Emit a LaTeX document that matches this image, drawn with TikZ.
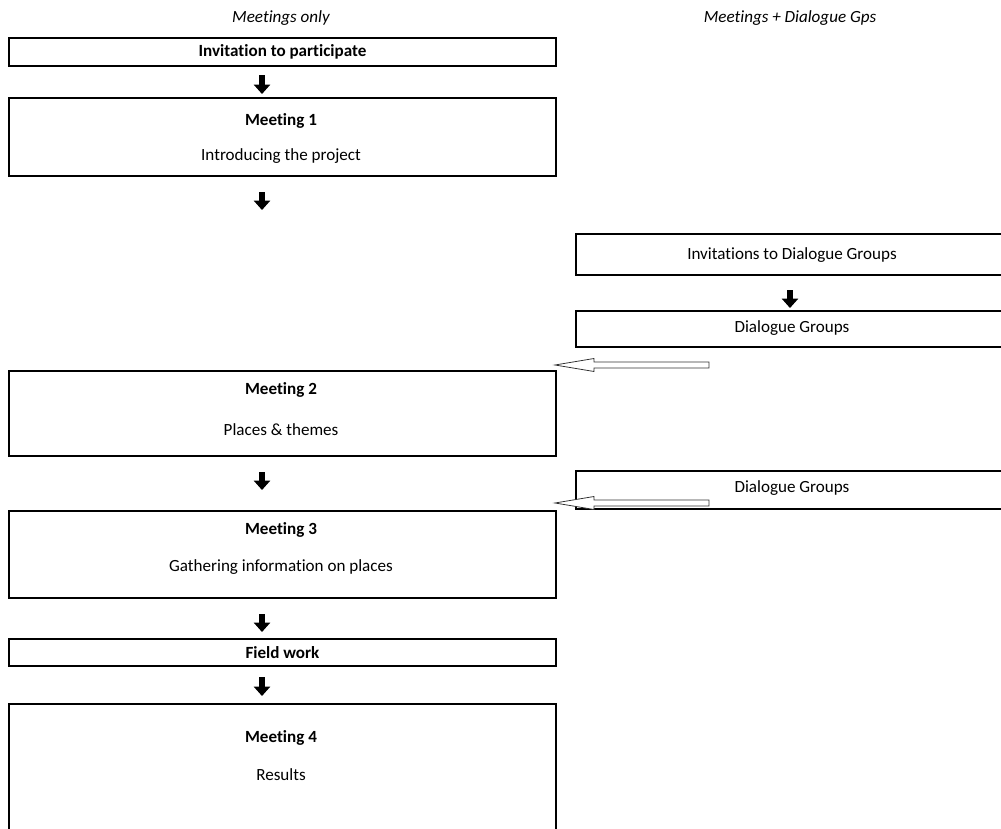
\documentclass[tikz,border=0pt]{standalone}
\usepackage{fontspec}
\setmainfont{Carlito}[Ligatures={NoCommon}]
\usetikzlibrary{arrows.meta,calc}
\begin{document}
\begin{tikzpicture}[x=0.75pt,y=-0.75pt,
  box/.style={draw=black,line width=1.5pt,inner sep=0pt,anchor=north west},
  lbl/.style={font=\fontsize{12.8}{15}\selectfont,inner sep=0pt},
  blbl/.style={font=\fontsize{12.8}{15}\selectfont\bfseries,inner sep=0pt},
  head/.style={font=\fontsize{12.8}{15}\selectfont\itshape,inner sep=0pt},
  downarr/.style={line width=3.9pt,-{Triangle[width=12pt,length=7pt]}},
  hollow/.style={draw=black!80,line width=0.6pt,fill=white,line join=miter}]
\useasboundingbox (0,0) rectangle (1001,829);
% column headers
\node[head] (h1) at (281,18) {Meetings only};
\node[head] (h2) at (790,18) {Meetings + Dialogue Gps};
% left column boxes
\node[box,minimum width=410.25pt,minimum height=21pt] (A) at (8,37) {};
\node[blbl] (At) at ($(A.center)$) {Invitation to participate};
\node[box,minimum width=410.25pt,minimum height=58.5pt] (B) at (8,97) {};
\node[blbl] (Bt1) at (281,121) {Meeting 1};
\node[lbl] (Bt2) at (281,156) {Introducing the project};
\node[box,minimum width=410.25pt,minimum height=63.75pt] (C) at (8,370) {};
\node[blbl] (Ct1) at (281,390) {Meeting 2};
\node[lbl] (Ct2) at (281,430) {Places \& themes};
\node[box,minimum width=410.25pt,minimum height=65.25pt] (D) at (8,510) {};
\node[blbl] (Dt1) at (281,530) {Meeting 3};
\node[lbl] (Dt2) at (281,567) {Gathering information on places};
\node[box,minimum width=410.25pt,minimum height=20.25pt] (E) at (8,638) {};
\node[blbl] (Et) at ($(E.center)$) {Field work};
\node[box,minimum width=410.25pt,minimum height=105pt] (F) at (8,703) {};
\node[blbl] (Ft1) at (281,738) {Meeting 4};
\node[lbl] (Ft2) at (281,775) {Results};
% right column boxes
\node[box,minimum width=326.25pt,minimum height=30.75pt] (R1) at (575,233) {};
\node[lbl] (R1t) at (792,255) {Invitations to Dialogue Groups};
\node[box,minimum width=326.25pt,minimum height=27pt] (R2) at (575,310) {};
\node[lbl] (R2t) at (792,328) {Dialogue Groups};
\node[box,minimum width=326.25pt,minimum height=28.5pt] (R3) at (575,470) {};
\node[lbl] (R3t) at (792,488) {Dialogue Groups};
% down arrows
\coordinate (lx) at (262,0);
\coordinate (rx) at (790,0);
\draw[downarr] (lx |- A.south) ++(0,8) -- ++(0,19);
\draw[downarr] (lx |- B.south) ++(0,15) -- ++(0,18);
\draw[downarr] (lx |- C.south) ++(0,15) -- ++(0,18);
\draw[downarr] (lx |- D.south) ++(0,15) -- ++(0,18);
\draw[downarr] (lx |- E.south) ++(0,10) -- ++(0,19);
\draw[downarr] (rx |- R1.south) ++(0,14) -- ++(0,18);
% hollow arrows
\coordinate (t1) at ($(C.north east)+(-2,-5)$);
\coordinate (t2) at ($(D.north east)+(-2,-7)$);
\foreach \t in {t1,t2}{
  \draw[hollow] (\t) -- ++(39,-6.5) -- ++(0,3.5) -- ++(115,0) -- ++(0,6) -- ++(-115,0) -- ++(0,3.5) -- cycle;
}
\end{tikzpicture}
\end{document}
